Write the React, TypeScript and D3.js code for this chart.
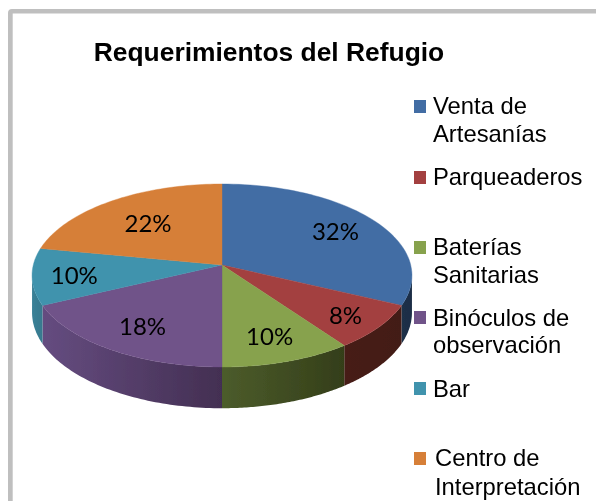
import React from "react";
import * as d3 from "d3";

const title = "Requerimientos del Refugio";
const categories = ["Venta de Artesanías", "Parqueaderos", "Baterías Sanitarias", "Binóculos de observación", "Bar", "Centro de Interpretación"];
const values = [32, 8, 10, 18, 10, 22];
const percentLabels = ["32%", "8%", "10%", "18%", "10%", "22%"];
const topColors = ["#426da4", "#a34140", "#87a24d", "#705289", "#3f93ad", "#d67f38"];
const wallStart = ["#1b3048", "#461b17", "#4c5c2b", "#654c80", "#3a8197", "#a05f2a"];
const wallEnd = ["#1b2e46", "#431a16", "#343e19", "#432f52", "#37798e", "#a05f2a"];
const legendLines = [["Venta de", "Artesanías"], ["Parqueaderos"], ["Baterías", "Sanitarias"], ["Binóculos de", "observación"], ["Bar"], ["Centro de", "Interpretación"]];

// layout
const W = 596, H = 501;
const cx = 222, cy = 265, rx0 = 188.7, ry0 = 90.3, k = 0.1147, depth0 = 36.5;
const labelFrac = [0.745, 0.8, 0.75, 0.73, 0.78, 0.65];
const legendSwatchY = [100, 171, 241, 311, 382, 452];
const legendBaselines = [[113.5, 142], [184.5], [254.5, 282.5], [325.5, 353], [396.5], [466, 495]];
const legendTextX = [433, 433, 433, 433, 433, 435];

const project = (a: number, f = 1): [number, number] => {
  const u = Math.sin(a) * f, v = -Math.cos(a) * f;
  const d = 1 - k * v;
  return [cx + (rx0 * u) / d, cy + (ry0 * v) / d];
};
const projectLow = (a: number): [number, number] => {
  const [x, y] = project(a);
  const d = 1 + k * Math.cos(a);
  return [x, y + depth0 / d];
};
const sample = (a0: number, a1: number, fn: (a: number) => [number, number]) =>
  d3.range(0, 61).map((i) => fn(a0 + ((a1 - a0) * i) / 60));

const line = d3.line();
const pieGen = d3.pie<number>().sort(null);
const arcs = pieGen(values);
const wallMin = (96.6 * Math.PI) / 180, wallMax = (263.4 * Math.PI) / 180;

export default function App() {
  const walls = arcs
    .map((s, i) => {
      const a0 = Math.max(s.startAngle, wallMin), a1 = Math.min(s.endAngle, wallMax);
      if (a1 <= a0) return null;
      const top = sample(a0, a1, project);
      const low = sample(a0, a1, projectLow).reverse();
      const xs = [...top, ...low].map((p) => p[0]);
      return { i, d: line([...top, ...low])! + "Z", x0: d3.min(xs)!, x1: d3.max(xs)! };
    })
    .filter(Boolean) as { i: number; d: string; x0: number; x1: number }[];

  return (
    <svg width={W} height={H} viewBox={`0 0 ${W} ${H}`} style={{ position: "absolute", left: 0, top: 0, background: "#fff" }}>
      <defs>
        <filter id="soft" x="-5%" y="-5%" width="110%" height="110%">
          <feGaussianBlur stdDeviation="0.4" />
        </filter>
        {walls.map((w) => (
          <linearGradient key={w.i} id={`wall${w.i}`} gradientUnits="userSpaceOnUse" x1={w.x0} x2={w.x1} y1={0} y2={0}>
            <stop offset="0%" stopColor={wallStart[w.i]} />
            <stop offset="100%" stopColor={wallEnd[w.i]} />
          </linearGradient>
        ))}
      </defs>
      <g filter="url(#soft)">
        <path d={`M8 ${H}V13Q8 9 12 9H${W}V13.5H12.7V${H}Z`} fill="#bfbfbf" />
        <text x={269} y={60.5} textAnchor="middle" fontFamily="'Liberation Sans', Arial, sans-serif" fontWeight="bold" fontSize={26.4} fill="#000">
          {title}
        </text>
        {walls.map((w) => (
          <path key={w.i} d={w.d} fill={`url(#wall${w.i})`} />
        ))}
        {arcs.map((s, i) => (
          <path
            key={i}
            d={line([[cx, cy], ...sample(s.startAngle, s.endAngle, project)])! + "Z"}
            fill={topColors[i]}
            stroke={topColors[i]}
            strokeWidth={0.4}
          />
        ))}
        {arcs.map((s, i) => {
          const [x, y] = project((s.startAngle + s.endAngle) / 2, labelFrac[i]);
          return (
            <text key={i} x={x} y={y + 1.5} dy="0.35em" textAnchor="middle" fontFamily="Lato, sans-serif" fontSize={24} fill="#000">
              {percentLabels[i]}
            </text>
          );
        })}
        {categories.map((c, i) => (
          <g key={c}>
            <rect x={414} y={legendSwatchY[i]} width={12} height={13} fill={topColors[i]} />
            <text fontFamily="'Liberation Sans', Arial, sans-serif" fontSize={23.8} fill="#000">
              {legendLines[i].map((t, j) => (
                <tspan key={j} x={legendTextX[i]} y={legendBaselines[i][j]}>
                  {t}
                </tspan>
              ))}
            </text>
          </g>
        ))}
      </g>
    </svg>
  );
}
